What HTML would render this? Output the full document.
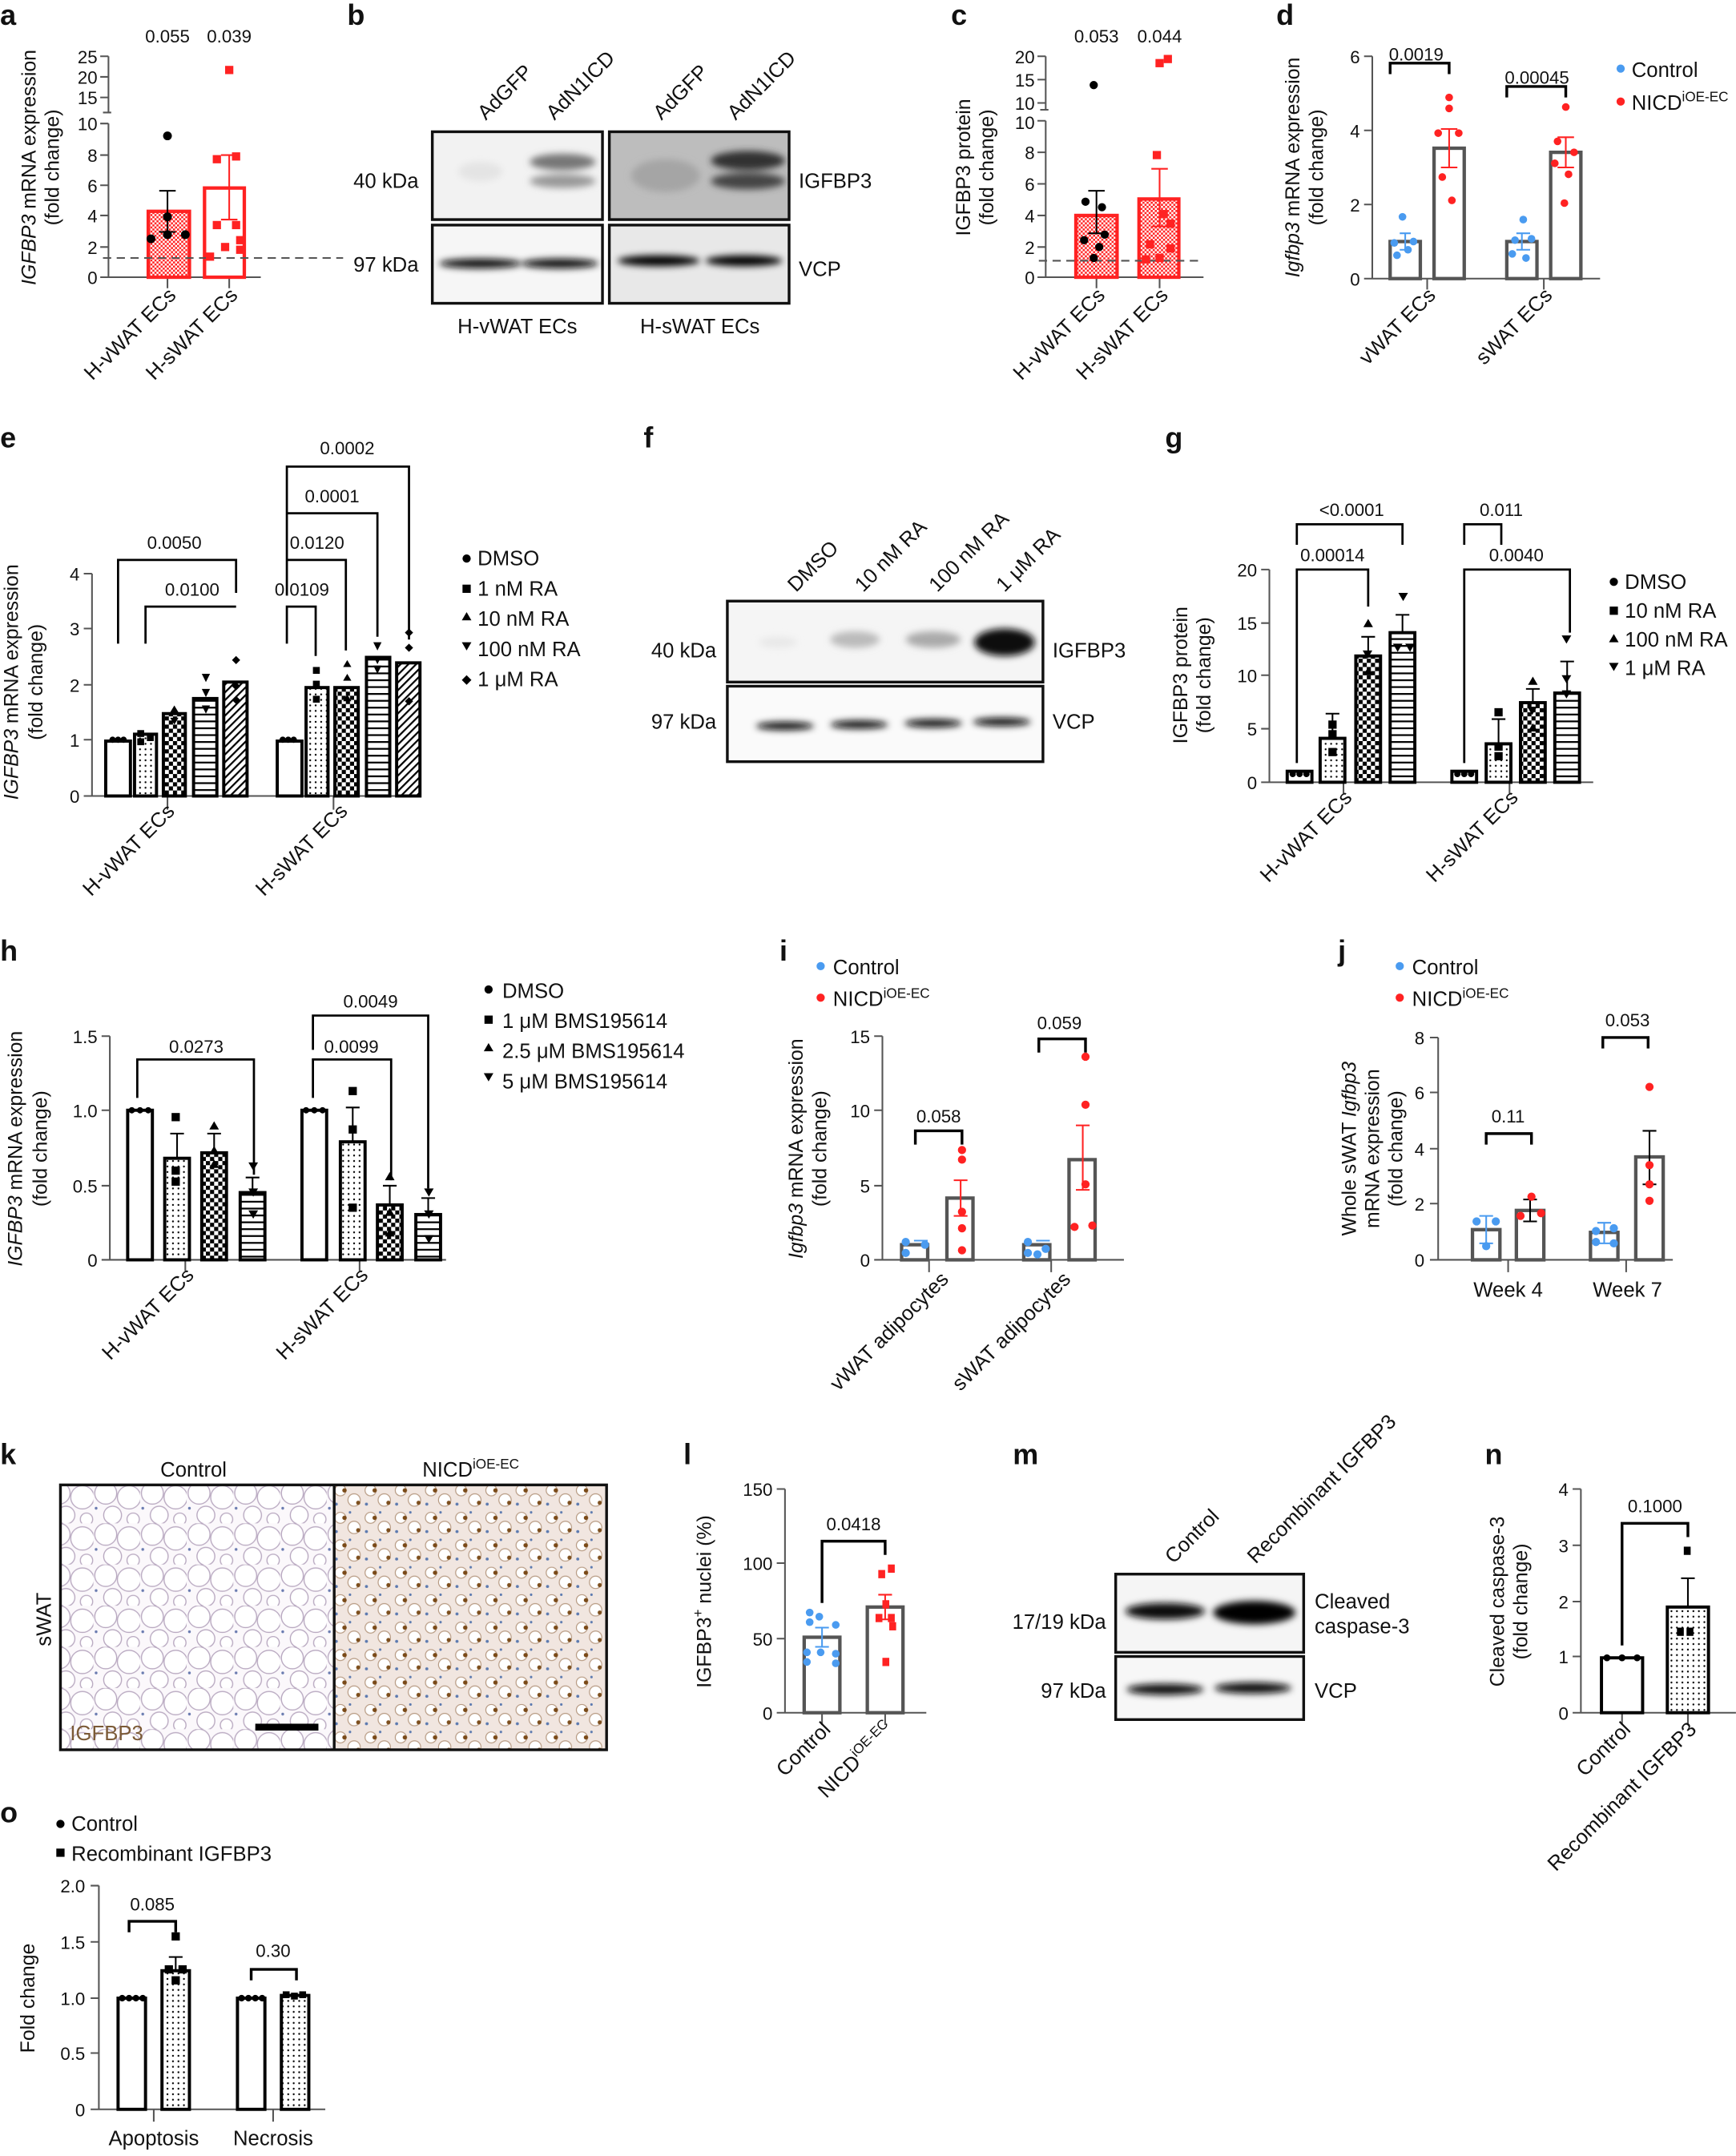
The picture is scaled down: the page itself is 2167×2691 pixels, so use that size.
<!DOCTYPE html>
<html><head><meta charset="utf-8">
<style>
html,body{margin:0;padding:0;background:#fff;}
svg{display:block;}
text{font-family:"Liberation Sans",sans-serif;fill:#111;}
.pl{font-weight:bold;font-size:21px;}
.tk{font-size:13px;}
.at{font-size:14.5px;}
.lb{font-size:15px;}
</style></head>
<body>
<svg width="2167" height="2691" viewBox="0 0 1265 1571" xmlns="http://www.w3.org/2000/svg">
<defs>
<pattern id="dots" width="4" height="4" patternUnits="userSpaceOnUse"><rect width="4" height="4" fill="#fff"/><circle cx="2" cy="2" r="0.7" fill="#000"/></pattern>
<pattern id="chk" width="6" height="6" patternUnits="userSpaceOnUse"><rect width="6" height="6" fill="#fff"/><rect width="3" height="3" fill="#000"/><rect x="3" y="3" width="3" height="3" fill="#000"/></pattern>
<pattern id="hor" width="6" height="5" patternUnits="userSpaceOnUse"><rect width="6" height="5" fill="#fff"/><rect y="0" width="6" height="1.3" fill="#000"/></pattern>
<pattern id="dia" width="4" height="4" patternUnits="userSpaceOnUse" patternTransform="rotate(45)"><rect width="4" height="4" fill="#fff"/><rect width="1.3" height="4" fill="#000"/></pattern>
<pattern id="rchk" width="3" height="3" patternUnits="userSpaceOnUse"><rect width="3" height="3" fill="#f22"/><rect width="1.5" height="1.5" fill="#fff"/><rect x="1.5" y="1.5" width="1.5" height="1.5" fill="#fff"/></pattern>
<pattern id="fat" width="34" height="30" patternUnits="userSpaceOnUse"><rect width="34" height="30" fill="#fbf8fb"/><circle cx="9" cy="8" r="8" fill="#fff" stroke="#b8a8c0" stroke-width="0.8"/><circle cx="26" cy="11" r="8.5" fill="#fff" stroke="#b8a8c0" stroke-width="0.8"/><circle cx="14" cy="24" r="6.5" fill="#fff" stroke="#b8a8c0" stroke-width="0.8"/><circle cx="29" cy="27" r="4.5" fill="#fff" stroke="#b8a8c0" stroke-width="0.8"/><circle cx="2" cy="19" r="1" fill="#6a7bb0"/></pattern>
<pattern id="tis" width="22" height="20" patternUnits="userSpaceOnUse"><rect width="22" height="20" fill="#f1e6e0"/><circle cx="6" cy="6" r="4" fill="#fff" stroke="#b79a82" stroke-width="0.7"/><circle cx="16" cy="13" r="4.5" fill="#fff" stroke="#b79a82" stroke-width="0.7"/><circle cx="9" cy="6" r="1.6" fill="#7a4a18"/><circle cx="19" cy="15" r="1.5" fill="#7d4f1e"/><circle cx="3" cy="16" r="1.1" fill="#5c7ab0"/><circle cx="13" cy="2" r="0.9" fill="#5c7ab0"/></pattern>
<filter id="bl"><feGaussianBlur stdDeviation="2.5"/></filter>
</defs>

<!-- ================= a ================= -->
<text class="pl" x="0" y="18">a</text>
<text class="tk" x="122" y="31" text-anchor="middle">0.055</text>
<text class="tk" x="167" y="31" text-anchor="middle">0.039</text>
<g stroke="#555" stroke-width="1.2" fill="none">
<path d="M79 41 V82 M79 90 V202 M73 41 H79 M73 56 H79 M73 71 H79 M75 82 H81 M73 90 H79 M73 113 H79 M73 135 H79 M73 157 H79 M73 180 H79"/>
<path d="M73 202 H190 M122 202 V210 M167 202 V210"/>
</g>
<g class="tk" text-anchor="end"><text x="71" y="46">25</text><text x="71" y="61">20</text><text x="71" y="76">15</text><text x="71" y="95">10</text><text x="71" y="118">8</text><text x="71" y="140">6</text><text x="71" y="162">4</text><text x="71" y="185">2</text><text x="71" y="207">0</text></g>
<text class="at" transform="translate(26,122) rotate(-90)" text-anchor="middle"><tspan font-style="italic">IGFBP3</tspan> mRNA expression</text>
<text class="at" transform="translate(43,122) rotate(-90)" text-anchor="middle">(fold change)</text>
<rect x="108" y="154" width="30" height="48" fill="url(#rchk)" stroke="#f22" stroke-width="2.5"/>
<rect x="149" y="137" width="29" height="65" fill="#fff" stroke="#f22" stroke-width="2.5"/>
<path d="M122 169 V139 M116 139 H128 M116 169 H128" stroke="#000" stroke-width="1.2"/>
<path d="M167 160 V113 M161 113 H173 M161 160 H173" stroke="#f22" stroke-width="1.2"/>
<line x1="75" y1="188" x2="250" y2="188" stroke="#555" stroke-width="1.2" stroke-dasharray="6,4"/>
<g fill="#000"><circle cx="122" cy="99" r="3.2"/><circle cx="122" cy="158" r="3.2"/><circle cx="122" cy="171" r="3.2"/><circle cx="110" cy="174" r="3.2"/><circle cx="135" cy="171" r="3.2"/></g>
<g fill="#f22"><rect x="164" y="48" width="6" height="6"/><rect x="155" y="113" width="6" height="6"/><rect x="169" y="111" width="6" height="6"/><rect x="155" y="161" width="6" height="6"/><rect x="169" y="161" width="6" height="6"/><rect x="161" y="177" width="6" height="6"/><rect x="172" y="172" width="6" height="6"/><rect x="172" y="179" width="6" height="6"/><rect x="150" y="184" width="6" height="6"/></g>
<text class="lb" transform="translate(129,216) rotate(-45)" text-anchor="end">H-vWAT ECs</text>
<text class="lb" transform="translate(174,216) rotate(-45)" text-anchor="end">H-sWAT ECs</text>

<!-- ================= b ================= -->
<text class="pl" x="253" y="18">b</text>
<text class="lb" transform="translate(354,88) rotate(-45)" >AdGFP</text>
<text class="lb" transform="translate(404,88) rotate(-45)" x="0">AdN1ICD</text>
<text class="lb" transform="translate(482,88) rotate(-45)">AdGFP</text>
<text class="lb" transform="translate(536,88) rotate(-45)">AdN1ICD</text>
<rect x="315" y="96" width="124" height="64" fill="#f2f2f2" stroke="#111" stroke-width="2"/>
<rect x="444" y="96" width="131" height="64" fill="#bdbdbd" stroke="#111" stroke-width="2"/>
<rect x="315" y="164" width="124" height="57" fill="#f6f6f6" stroke="#111" stroke-width="2"/>
<rect x="444" y="164" width="131" height="57" fill="#e8e8e8" stroke="#111" stroke-width="2"/>
<g filter="url(#bl)">
<ellipse cx="410" cy="118" rx="24" ry="6" fill="#777"/><ellipse cx="410" cy="132" rx="24" ry="5" fill="#999"/>
<ellipse cx="350" cy="125" rx="16" ry="7" fill="#e4e4e4"/>
<ellipse cx="485" cy="128" rx="25" ry="12" fill="#a5a5a5"/>
<ellipse cx="545" cy="117" rx="27" ry="7" fill="#333"/><ellipse cx="545" cy="132" rx="27" ry="6" fill="#444"/>
<ellipse cx="350" cy="192" rx="30" ry="3.5" fill="#111"/><ellipse cx="408" cy="192" rx="28" ry="3.5" fill="#111"/>
<ellipse cx="480" cy="190" rx="30" ry="4" fill="#000"/><ellipse cx="542" cy="190" rx="28" ry="4" fill="#000"/>
</g>
<text class="lb" x="305" y="137" text-anchor="end">40 kDa</text>
<text class="lb" x="305" y="198" text-anchor="end">97 kDa</text>
<text class="lb" x="582" y="137">IGFBP3</text>
<text class="lb" x="582" y="201">VCP</text>
<text class="lb" x="377" y="243" text-anchor="middle">H-vWAT ECs</text>
<text class="lb" x="510" y="243" text-anchor="middle">H-sWAT ECs</text>

<!-- ================= c ================= -->
<text class="pl" x="693" y="18">c</text>
<text class="tk" x="799" y="31" text-anchor="middle">0.053</text>
<text class="tk" x="845" y="31" text-anchor="middle">0.044</text>
<g stroke="#555" stroke-width="1.2" fill="none">
<path d="M762 41 V80 M762 88 V202 M756 41 H762 M756 58 H762 M756 75 H762 M758 80 H764 M756 88 H762 M756 111 H762 M756 134 H762 M756 157 H762 M756 180 H762 M756 202 H877 M799 202 V210 M845 202 V210"/>
</g>
<g class="tk" text-anchor="end"><text x="754" y="46">20</text><text x="754" y="63">15</text><text x="754" y="80">10</text><text x="754" y="94">10</text><text x="754" y="116">8</text><text x="754" y="139">6</text><text x="754" y="162">4</text><text x="754" y="185">2</text><text x="754" y="207">0</text></g>
<text class="at" transform="translate(707,122) rotate(-90)" text-anchor="middle">IGFBP3 protein</text>
<text class="at" transform="translate(724,122) rotate(-90)" text-anchor="middle">(fold change)</text>
<rect x="784" y="157" width="30" height="45" fill="url(#rchk)" stroke="#f22" stroke-width="2.5"/>
<rect x="830" y="145" width="29" height="57" fill="url(#rchk)" stroke="#f22" stroke-width="2.5"/>
<path d="M799 170 V139 M793 139 H805 M793 170 H805" stroke="#000" stroke-width="1.2"/>
<path d="M845 165 V123 M839 123 H851 M839 165 H851" stroke="#f22" stroke-width="1.2"/>
<line x1="757" y1="190" x2="877" y2="190" stroke="#555" stroke-width="1.2" stroke-dasharray="6,4"/>
<g fill="#000"><circle cx="797" cy="62" r="3"/><circle cx="791" cy="147" r="3"/><circle cx="803" cy="151" r="3"/><circle cx="790" cy="175" r="3"/><circle cx="801" cy="180" r="3"/><circle cx="797" cy="188" r="3"/><circle cx="805" cy="171" r="3"/></g>
<g fill="#f22"><rect x="842" y="43" width="6" height="6"/><rect x="848" y="40" width="6" height="6"/><rect x="840" y="110" width="6" height="6"/><rect x="845" y="153" width="6" height="6"/><rect x="850" y="160" width="6" height="6"/><rect x="835" y="175" width="6" height="6"/><rect x="850" y="178" width="6" height="6"/><rect x="842" y="185" width="6" height="6"/><rect x="832" y="186" width="6" height="6"/></g>
<text class="lb" transform="translate(806,216) rotate(-45)" text-anchor="end">H-vWAT ECs</text>
<text class="lb" transform="translate(852,216) rotate(-45)" text-anchor="end">H-sWAT ECs</text>

<!-- ================= d ================= -->
<text class="pl" x="930" y="18">d</text>
<g stroke="#555" stroke-width="1.2" fill="none"><path d="M1000 41 V203 M994 41 H1000 M994 95 H1000 M994 149 H1000 M994 203 H1166 M1040 203 V211 M1125 203 V211"/></g>
<g class="tk" text-anchor="end"><text x="991" y="46">6</text><text x="991" y="100">4</text><text x="991" y="154">2</text><text x="991" y="208">0</text></g>
<text class="at" transform="translate(947,122) rotate(-90)" text-anchor="middle"><tspan font-style="italic">Igfbp3</tspan> mRNA expression</text>
<text class="at" transform="translate(964,122) rotate(-90)" text-anchor="middle">(fold change)</text>
<g fill="#fff" stroke="#555" stroke-width="2.5"><rect x="1013" y="176" width="22" height="27"/><rect x="1045" y="108" width="22" height="95"/><rect x="1098" y="176" width="22" height="27"/><rect x="1130" y="111" width="22" height="92"/></g>
<path d="M1024 170 V182 M1020 170 H1028 M1020 182 H1028 M1109 170 V182 M1105 170 H1115 M1105 182 H1115" stroke="#4a9bf0" stroke-width="1.2"/>
<path d="M1056 94 V122 M1050 94 H1062 M1050 122 H1062 M1141 100 V122 M1135 100 H1147 M1135 122 H1147" stroke="#f22" stroke-width="1.2"/>
<path d="M1013 54 V46 H1056 V54 M1098 71 V63 H1141 V71" stroke="#000" stroke-width="2" fill="none"/>
<text class="tk" x="1032" y="44" text-anchor="middle">0.0019</text>
<text class="tk" x="1120" y="61" text-anchor="middle">0.00045</text>
<g fill="#4a9bf0"><circle cx="1022" cy="158" r="2.8"/><circle cx="1016" cy="177" r="2.8"/><circle cx="1030" cy="176" r="2.8"/><circle cx="1018" cy="186" r="2.8"/><circle cx="1026" cy="182" r="2.8"/><circle cx="1110" cy="160" r="2.8"/><circle cx="1104" cy="175" r="2.8"/><circle cx="1116" cy="174" r="2.8"/><circle cx="1102" cy="185" r="2.8"/><circle cx="1112" cy="188" r="2.8"/></g>
<g fill="#f22"><circle cx="1056" cy="71" r="2.8"/><circle cx="1056" cy="79" r="2.8"/><circle cx="1048" cy="97" r="2.8"/><circle cx="1063" cy="97" r="2.8"/><circle cx="1051" cy="129" r="2.8"/><circle cx="1058" cy="146" r="2.8"/><circle cx="1141" cy="78" r="2.8"/><circle cx="1135" cy="103" r="2.8"/><circle cx="1147" cy="111" r="2.8"/><circle cx="1133" cy="119" r="2.8"/><circle cx="1143" cy="127" r="2.8"/><circle cx="1140" cy="148" r="2.8"/></g>
<text class="lb" transform="translate(1047,216) rotate(-45)" text-anchor="end">vWAT ECs</text>
<text class="lb" transform="translate(1132,216) rotate(-45)" text-anchor="end">sWAT ECs</text>
<circle cx="1181" cy="50" r="3" fill="#4a9bf0"/><text class="lb" x="1189" y="56">Control</text>
<circle cx="1181" cy="74" r="3" fill="#f22"/><text class="lb" x="1189" y="80">NICD<tspan font-size="10" dy="-6">iOE-EC</tspan></text>

<!-- ================= e ================= -->
<text class="pl" x="0" y="326">e</text>
<g stroke="#555" stroke-width="1.2" fill="none"><path d="M67 418 V580 M61 418 H67 M61 458 H67 M61 499 H67 M61 539 H67 M61 580 H307 M122 580 V590 M243 580 V590"/></g>
<g class="tk" text-anchor="end"><text x="58" y="423">4</text><text x="58" y="463">3</text><text x="58" y="504">2</text><text x="58" y="544">1</text><text x="58" y="585">0</text></g>
<text class="at" transform="translate(13,497) rotate(-90)" text-anchor="middle"><tspan font-style="italic">IGFBP3</tspan> mRNA expression</text>
<text class="at" transform="translate(31,497) rotate(-90)" text-anchor="middle">(fold change)</text>
<g stroke="#000" stroke-width="2.3">
<rect x="77" y="540" width="18" height="40" fill="#fff"/><rect x="98" y="535" width="16" height="45" fill="url(#dots)"/><rect x="119" y="520" width="16" height="60" fill="url(#chk)"/><rect x="141" y="509" width="17" height="71" fill="url(#hor)"/><rect x="163" y="497" width="17" height="83" fill="url(#dia)"/>
<rect x="202" y="540" width="18" height="40" fill="#fff"/><rect x="223" y="501" width="16" height="79" fill="url(#dots)"/><rect x="244" y="501" width="17" height="79" fill="url(#chk)"/><rect x="267" y="479" width="17" height="101" fill="url(#hor)"/><rect x="289" y="483" width="17" height="97" fill="url(#dia)"/>
</g>
<g stroke="#000" stroke-width="1.6" fill="none">
<path d="M86 469 V408 H172 V432 M106 469 V442 H172 M209 469 V442 H230 V478 M209 434 V408 H252 V474 M209 425 V374 H275 V464 M209 400 V340 H298 V466"/>
</g>
<g class="tk" text-anchor="middle"><text x="127" y="400">0.0050</text><text x="140" y="434">0.0100</text><text x="220" y="434">0.0109</text><text x="231" y="400">0.0120</text><text x="242" y="366">0.0001</text><text x="253" y="331">0.0002</text></g>
<g fill="#000">
<circle cx="82" cy="539" r="2.3"/><circle cx="86" cy="539" r="2.3"/><circle cx="90" cy="539" r="2.3"/>
<rect x="100" y="532" width="5" height="5"/><rect x="100" y="538" width="5" height="5"/><rect x="107" y="535" width="5" height="5"/>
<path d="M127 514 l3 5 h-6z M124 523 l3 5 3-5z"/>
<path d="M147 491 h6 l-3 6z M147 502 h6 l-3 6z M147 514 h6 l-3 6z"/>
<path d="M172 478 l3 3 -3 3 -3 -3z M172 497 l3 3 -3 3 -3 -3z M172 507 l3 3 -3 3 -3 -3z"/>
<circle cx="206" cy="539" r="2.3"/><circle cx="210" cy="539" r="2.3"/><circle cx="214" cy="539" r="2.3"/>
<rect x="228" y="486" width="5" height="5"/><rect x="228" y="496" width="5" height="5"/><rect x="228" y="507" width="5" height="5"/>
<path d="M253 481 l3 5 h-6z M253 491 l3 5 h-6z M253 506 l3 5 h-6z"/>
<path d="M272 468 h6 l-3 6z M272 478 h6 l-3 6z M272 485 h6 l-3 6z"/>
<path d="M298 458 l3 3 -3 3 -3 -3z M298 469 l3 3 -3 3 -3 -3z M298 508 l3 3 -3 3 -3 -3z"/>
</g>
<text class="lb" transform="translate(128,592) rotate(-45)" text-anchor="end">H-vWAT ECs</text>
<text class="lb" transform="translate(254,592) rotate(-45)" text-anchor="end">H-sWAT ECs</text>
<g class="lb"><circle cx="340" cy="407" r="3" fill="#000"/><text x="348" y="412">DMSO</text>
<rect x="337" y="426" width="6" height="6" fill="#000"/><text x="348" y="434">1 nM RA</text>
<path d="M340 446 l3.5 6 h-7z" fill="#000"/><text x="348" y="456">10 nM RA</text>
<path d="M336.5 468 h7 l-3.5 6z" fill="#000"/><text x="348" y="478">100 nM RA</text>
<path d="M340 492 l3.5 3.5 -3.5 3.5 -3.5 -3.5z" fill="#000"/><text x="348" y="500">1 μM RA</text></g>

<!-- ================= f ================= -->
<text class="pl" x="469" y="326">f</text>
<text class="lb" transform="translate(580,432) rotate(-45)">DMSO</text>
<text class="lb" transform="translate(629,432) rotate(-45)">10 nM RA</text>
<text class="lb" transform="translate(683,432) rotate(-45)">100 nM RA</text>
<text class="lb" transform="translate(732,432) rotate(-45)">1 μM RA</text>
<rect x="530" y="438" width="230" height="59" fill="#f5f5f5" stroke="#111" stroke-width="2"/>
<rect x="530" y="500" width="230" height="55" fill="#fafafa" stroke="#111" stroke-width="2"/>
<g filter="url(#bl)">
<ellipse cx="567" cy="468" rx="14" ry="4" fill="#e8e8e8"/>
<ellipse cx="623" cy="466" rx="18" ry="6" fill="#bbb"/><ellipse cx="680" cy="466" rx="20" ry="6" fill="#aaa"/>
<ellipse cx="732" cy="468" rx="22" ry="10" fill="#111"/>
<ellipse cx="572" cy="529" rx="21" ry="3" fill="#111"/><ellipse cx="626" cy="528" rx="21" ry="3" fill="#111"/><ellipse cx="680" cy="527" rx="21" ry="3" fill="#111"/><ellipse cx="730" cy="526" rx="21" ry="3" fill="#111"/>
</g>
<text class="lb" x="522" y="479" text-anchor="end">40 kDa</text>
<text class="lb" x="522" y="531" text-anchor="end">97 kDa</text>
<text class="lb" x="767" y="479">IGFBP3</text>
<text class="lb" x="767" y="531">VCP</text>

<!-- ================= g ================= -->
<text class="pl" x="849" y="326">g</text>
<g stroke="#555" stroke-width="1.2" fill="none"><path d="M925 415 V570 M919 415 H925 M919 454 H925 M919 492 H925 M919 531 H925 M919 570 H1161 M979 570 V578 M1100 570 V578"/></g>
<g class="tk" text-anchor="end"><text x="916" y="420">20</text><text x="916" y="459">15</text><text x="916" y="497">10</text><text x="916" y="536">5</text><text x="916" y="575">0</text></g>
<text class="at" transform="translate(865,492) rotate(-90)" text-anchor="middle">IGFBP3 protein</text>
<text class="at" transform="translate(882,492) rotate(-90)" text-anchor="middle">(fold change)</text>
<g stroke="#000" stroke-width="2.3">
<rect x="938" y="562" width="18" height="8" fill="#fff"/><rect x="962" y="538" width="18" height="32" fill="url(#dots)"/><rect x="988" y="478" width="18" height="92" fill="url(#chk)"/><rect x="1013" y="461" width="18" height="109" fill="url(#hor)"/>
<rect x="1058" y="562" width="18" height="8" fill="#fff"/><rect x="1083" y="542" width="18" height="28" fill="url(#dots)"/><rect x="1108" y="512" width="18" height="58" fill="url(#chk)"/><rect x="1133" y="505" width="18" height="65" fill="url(#hor)"/>
</g>
<path d="M997 478 V464 M992 464 H1002 M1022 461 V448 M1017 448 H1027 M971 538 V520 M966 520 H976 M1092 542 V524 M1087 524 H1097 M1117 512 V502 M1112 502 H1122 M1142 505 V482 M1137 482 H1147" stroke="#000" stroke-width="1.2"/>
<g stroke="#000" stroke-width="1.6" fill="none"><path d="M945 556 V415 H997 V442 M945 397 V382 H1022 V397 M1067 556 V415 H1144 V461 M1067 397 V382 H1094 V397"/></g>
<g class="tk" text-anchor="middle"><text x="971" y="409">0.00014</text><text x="985" y="376">&lt;0.0001</text><text x="1105" y="409">0.0040</text><text x="1094" y="376">0.011</text></g>
<g fill="#000">
<circle cx="942" cy="564" r="2.3"/><circle cx="947" cy="564" r="2.3"/><circle cx="952" cy="564" r="2.3"/>
<rect x="968" y="525" width="6" height="6"/><rect x="968" y="532" width="6" height="6"/><rect x="968" y="545" width="6" height="6"/>
<path d="M997 451 l3.5 6 h-7z M993 474 h7 l-3.5 6z M997 486 l3.5 6 h-7z"/>
<path d="M1019 432 h7 l-3.5 6z M1015 469 h7 l-3.5 6z M1024 469 h7 l-3.5 6z"/>
<circle cx="1062" cy="564" r="2.3"/><circle cx="1067" cy="564" r="2.3"/><circle cx="1072" cy="564" r="2.3"/>
<rect x="1089" y="516" width="6" height="6"/><rect x="1089" y="541" width="6" height="6"/><rect x="1089" y="548" width="6" height="6"/>
<path d="M1117 493 l3.5 6 h-7z M1113 515 h7 l-3.5 6z M1117 527 l3.5 6 h-7z"/>
<path d="M1138 463 h7 l-3.5 6z M1138 492 h7 l-3.5 6z M1138 503 h7 l-3.5 6z"/>
</g>
<text class="lb" transform="translate(986,582) rotate(-45)" text-anchor="end">H-vWAT ECs</text>
<text class="lb" transform="translate(1107,582) rotate(-45)" text-anchor="end">H-sWAT ECs</text>
<g class="lb"><circle cx="1176" cy="424" r="3" fill="#000"/><text x="1184" y="429">DMSO</text>
<rect x="1173" y="442" width="6" height="6" fill="#000"/><text x="1184" y="450">10 nM RA</text>
<path d="M1176 462 l3.5 6 h-7z" fill="#000"/><text x="1184" y="471">100 nM RA</text>
<path d="M1172.5 483 h7 l-3.5 6z" fill="#000"/><text x="1184" y="492">1 μM RA</text></g>

<!-- ================= h ================= -->
<text class="pl" x="0" y="700">h</text>
<g stroke="#555" stroke-width="1.2" fill="none"><path d="M80 755 V918 M74 755 H80 M74 809 H80 M74 864 H80 M74 918 H325 M135 918 V926 M262 918 V926"/></g>
<g class="tk" text-anchor="end"><text x="71" y="760">1.5</text><text x="71" y="814">1.0</text><text x="71" y="869">0.5</text><text x="71" y="923">0</text></g>
<text class="at" transform="translate(16,837) rotate(-90)" text-anchor="middle"><tspan font-style="italic">IGFBP3</tspan> mRNA expression</text>
<text class="at" transform="translate(34,837) rotate(-90)" text-anchor="middle">(fold change)</text>
<g stroke="#000" stroke-width="2.3">
<rect x="93" y="809" width="18" height="109" fill="#fff"/><rect x="120" y="844" width="18" height="74" fill="url(#dots)"/><rect x="147" y="840" width="18" height="78" fill="url(#chk)"/><rect x="175" y="869" width="18" height="49" fill="url(#hor)"/>
<rect x="220" y="809" width="18" height="109" fill="#fff"/><rect x="248" y="832" width="18" height="86" fill="url(#dots)"/><rect x="275" y="878" width="18" height="40" fill="url(#chk)"/><rect x="303" y="885" width="18" height="33" fill="url(#hor)"/>
</g>
<path d="M129 844 V826 M124 826 H134 M156 840 V826 M151 826 H161 M184 869 V858 M179 858 H189 M257 832 V807 M252 807 H262 M284 878 V864 M279 864 H289 M312 885 V873 M307 873 H317" stroke="#000" stroke-width="1.2"/>
<g stroke="#000" stroke-width="1.6" fill="none"><path d="M100 800 V772 H185 V856 M228 800 V772 H285 V860 M228 765 V740 H312 V866"/></g>
<g class="tk" text-anchor="middle"><text x="143" y="767">0.0273</text><text x="256" y="767">0.0099</text><text x="270" y="734">0.0049</text></g>
<g fill="#000">
<circle cx="96" cy="809" r="2.3"/><circle cx="102" cy="809" r="2.3"/><circle cx="108" cy="809" r="2.3"/>
<rect x="125" y="811" width="6" height="6"/><rect x="125" y="850" width="6" height="6"/><rect x="125" y="858" width="6" height="6"/>
<path d="M156 817 l3.5 6 h-7z M156 835 l3.5 6 h-7z M156 845 l3.5 6 h-7z"/>
<path d="M181 847 h7 l-3.5 6z M181 866 h7 l-3.5 6z M181 882 h7 l-3.5 6z"/>
<circle cx="223" cy="809" r="2.3"/><circle cx="229" cy="809" r="2.3"/><circle cx="235" cy="809" r="2.3"/>
<rect x="254" y="792" width="6" height="6"/><rect x="254" y="820" width="6" height="6"/><rect x="254" y="877" width="6" height="6"/>
<path d="M284 854 l3.5 6 h-7z M284 880 l3.5 6 h-7z M284 895 l3.5 6 h-7z"/>
<path d="M309 866 h7 l-3.5 6z M309 882 h7 l-3.5 6z M309 900 h7 l-3.5 6z"/>
</g>
<text class="lb" transform="translate(142,930) rotate(-45)" text-anchor="end">H-vWAT ECs</text>
<text class="lb" transform="translate(269,930) rotate(-45)" text-anchor="end">H-sWAT ECs</text>
<g class="lb"><circle cx="356" cy="721" r="3" fill="#000"/><text x="366" y="727">DMSO</text>
<rect x="353" y="740" width="6" height="6" fill="#000"/><text x="366" y="749">1 μM BMS195614</text>
<path d="M356 760 l3.5 6 h-7z" fill="#000"/><text x="366" y="771">2.5 μM BMS195614</text>
<path d="M352.5 782 h7 l-3.5 6z" fill="#000"/><text x="366" y="793">5 μM BMS195614</text></g>

<!-- ================= i ================= -->
<text class="pl" x="568" y="700">i</text>
<circle cx="598" cy="704" r="3" fill="#4a9bf0"/><text class="lb" x="607" y="710">Control</text>
<circle cx="598" cy="727" r="3" fill="#f22"/><text class="lb" x="607" y="733">NICD<tspan font-size="10" dy="-6">iOE-EC</tspan></text>
<g stroke="#555" stroke-width="1.2" fill="none"><path d="M643 755 V918 M637 755 H643 M637 809 H643 M637 864 H643 M637 918 H819 M677 918 V927 M766 918 V927"/></g>
<g class="tk" text-anchor="end"><text x="634" y="760">15</text><text x="634" y="814">10</text><text x="634" y="869">5</text><text x="634" y="923">0</text></g>
<text class="at" transform="translate(585,837) rotate(-90)" text-anchor="middle"><tspan font-style="italic">Igfbp3</tspan> mRNA expression</text>
<text class="at" transform="translate(602,837) rotate(-90)" text-anchor="middle">(fold change)</text>
<g fill="#fff" stroke="#555" stroke-width="2.5"><rect x="657" y="907" width="19" height="11"/><rect x="690" y="873" width="19" height="45"/><rect x="746" y="907" width="19" height="11"/><rect x="779" y="845" width="19" height="73"/></g>
<path d="M700 860 V886 M695 860 H705 M695 886 H705 M789 820 V867 M784 820 H794 M784 867 H794" stroke="#f22" stroke-width="1.2"/>
<path d="M666 904 H676 M755 904 H765" stroke="#4a9bf0" stroke-width="1.2"/>
<g stroke="#000" stroke-width="2" fill="none"><path d="M667 834 V824 H701 V834 M757 767 V757 H791 V767"/></g>
<text class="tk" x="684" y="818" text-anchor="middle">0.058</text><text class="tk" x="772" y="750" text-anchor="middle">0.059</text>
<g fill="#4a9bf0"><circle cx="660" cy="905" r="3"/><circle cx="660" cy="913" r="3"/><circle cx="674" cy="907" r="3"/><circle cx="749" cy="905" r="3"/><circle cx="749" cy="913" r="3"/><circle cx="756" cy="914" r="3"/><circle cx="762" cy="910" r="3"/></g>
<g fill="#f22"><circle cx="701" cy="838" r="3"/><circle cx="701" cy="845" r="3"/><circle cx="701" cy="883" r="3"/><circle cx="701" cy="895" r="3"/><circle cx="701" cy="911" r="3"/><circle cx="791" cy="770" r="3"/><circle cx="791" cy="805" r="3"/><circle cx="791" cy="863" r="3"/><circle cx="783" cy="894" r="3"/><circle cx="796" cy="893" r="3"/></g>
<text class="lb" transform="translate(692,933) rotate(-45)" text-anchor="end">vWAT adipocytes</text>
<text class="lb" transform="translate(781,933) rotate(-45)" text-anchor="end">sWAT adipocytes</text>

<!-- ================= j ================= -->
<text class="pl" x="975" y="700">j</text>
<circle cx="1020" cy="704" r="3" fill="#4a9bf0"/><text class="lb" x="1029" y="710">Control</text>
<circle cx="1020" cy="727" r="3" fill="#f22"/><text class="lb" x="1029" y="733">NICD<tspan font-size="10" dy="-6">iOE-EC</tspan></text>
<g stroke="#555" stroke-width="1.2" fill="none"><path d="M1048 756 V918 M1042 756 H1048 M1042 796 H1048 M1042 837 H1048 M1042 877 H1048 M1042 918 H1219 M1099 918 V927 M1185 918 V927"/></g>
<g class="tk" text-anchor="end"><text x="1038" y="761">8</text><text x="1038" y="801">6</text><text x="1038" y="842">4</text><text x="1038" y="882">2</text><text x="1038" y="923">0</text></g>
<text class="at" transform="translate(988,837) rotate(-90)" text-anchor="middle">Whole sWAT <tspan font-style="italic">Igfbp3</tspan></text>
<text class="at" transform="translate(1005,837) rotate(-90)" text-anchor="middle">mRNA expression</text>
<text class="at" transform="translate(1022,837) rotate(-90)" text-anchor="middle">(fold change)</text>
<g fill="#fff" stroke="#555" stroke-width="2.5"><rect x="1073" y="896" width="20" height="22"/><rect x="1105" y="882" width="20" height="36"/><rect x="1159" y="898" width="20" height="20"/><rect x="1192" y="843" width="20" height="75"/></g>
<path d="M1083 886 V906 M1078 886 H1088 M1078 906 H1088 M1169 891 V906 M1164 891 H1174 M1164 906 H1174" stroke="#4a9bf0" stroke-width="1.2"/>
<path d="M1115 874 V890 M1110 874 H1120 M1110 890 H1120 M1202 824 V863 M1197 824 H1207 M1197 863 H1207" stroke="#000" stroke-width="1.2"/>
<g stroke="#000" stroke-width="2" fill="none"><path d="M1083 834 V826 H1116 V834 M1168 764 V756 H1201 V764"/></g>
<text class="tk" x="1099" y="818" text-anchor="middle">0.11</text><text class="tk" x="1186" y="748" text-anchor="middle">0.053</text>
<g fill="#4a9bf0"><circle cx="1076" cy="890" r="3"/><circle cx="1090" cy="890" r="3"/><circle cx="1083" cy="908" r="3"/><circle cx="1163" cy="897" r="3"/><circle cx="1176" cy="895" r="3"/><circle cx="1163" cy="905" r="3"/><circle cx="1176" cy="906" r="3"/></g>
<g fill="#f22"><circle cx="1116" cy="872" r="3"/><circle cx="1108" cy="886" r="3"/><circle cx="1123" cy="884" r="3"/><circle cx="1202" cy="792" r="3"/><circle cx="1202" cy="849" r="3"/><circle cx="1202" cy="863" r="3"/><circle cx="1202" cy="875" r="3"/></g>
<text class="lb" x="1099" y="945" text-anchor="middle">Week 4</text><text class="lb" x="1186" y="945" text-anchor="middle">Week 7</text>

<!-- ================= k ================= -->
<text class="pl" x="0" y="1067">k</text>
<text class="lb" x="141" y="1076" text-anchor="middle">Control</text>
<text class="lb" x="343" y="1076" text-anchor="middle">NICD<tspan font-size="10" dy="-6">iOE-EC</tspan></text>
<rect x="44" y="1082" width="199" height="193" fill="url(#fat)"/>
<rect x="244" y="1082" width="198" height="193" fill="url(#tis)"/>
<rect x="44" y="1082" width="398" height="193" fill="none" stroke="#111" stroke-width="2"/>
<line x1="243.5" y1="1082" x2="243.5" y2="1275" stroke="#111" stroke-width="2"/>
<rect x="186" y="1256" width="46" height="5" fill="#000"/>
<text x="51" y="1268" font-size="15" style="fill:#7b5a36">IGFBP3</text>
<text class="lb" transform="translate(37,1180) rotate(-90)" text-anchor="middle">sWAT</text>

<!-- ================= l ================= -->
<text class="pl" x="498" y="1067">l</text>
<g stroke="#555" stroke-width="1.2" fill="none"><path d="M572 1085 V1248 M566 1085 H572 M566 1139 H572 M566 1194 H572 M566 1248 H675 M599 1248 V1257 M645 1248 V1257"/></g>
<g class="tk" text-anchor="end"><text x="563" y="1090">150</text><text x="563" y="1144">100</text><text x="563" y="1199">50</text><text x="563" y="1253">0</text></g>
<text class="at" transform="translate(518,1167) rotate(-90)" text-anchor="middle">IGFBP3<tspan font-size="10" dy="-6">+</tspan><tspan dy="6"> nuclei (%)</tspan></text>
<g fill="#fff" stroke="#555" stroke-width="2.5"><rect x="586" y="1193" width="26" height="55"/><rect x="632" y="1171" width="26" height="77"/></g>
<path d="M599 1186 V1200 M594 1186 H604 M594 1200 H604" stroke="#4a9bf0" stroke-width="1.2"/>
<path d="M645 1162 V1180 M640 1162 H650 M640 1180 H650" stroke="#f22" stroke-width="1.2"/>
<path d="M599 1168 V1123 H645 V1133" stroke="#000" stroke-width="2" fill="none"/>
<text class="tk" x="622" y="1115" text-anchor="middle">0.0418</text>
<g fill="#4a9bf0"><circle cx="590" cy="1175" r="2.8"/><circle cx="590" cy="1182" r="2.8"/><circle cx="597" cy="1178" r="2.8"/><circle cx="609" cy="1184" r="2.8"/><circle cx="588" cy="1204" r="2.8"/><circle cx="598" cy="1204" r="2.8"/><circle cx="609" cy="1205" r="2.8"/><circle cx="588" cy="1211" r="2.8"/><circle cx="609" cy="1212" r="2.8"/></g>
<g fill="#f22"><rect x="640" y="1144" width="5" height="6"/><rect x="647" y="1140" width="5" height="6"/><rect x="643" y="1166" width="5" height="6"/><rect x="647" y="1176" width="5" height="6"/><rect x="638" y="1176" width="5" height="6"/><rect x="648" y="1182" width="5" height="6"/><rect x="643" y="1208" width="5" height="6"/></g>
<text class="lb" transform="translate(606,1261) rotate(-45)" text-anchor="end">Control</text>
<text class="lb" transform="translate(652,1261) rotate(-45)" text-anchor="end">NICD<tspan font-size="10" dy="-6">iOE-EC</tspan></text>

<!-- ================= m ================= -->
<text class="pl" x="738" y="1067">m</text>
<text class="lb" transform="translate(855,1140) rotate(-45)">Control</text>
<text class="lb" transform="translate(915,1140) rotate(-45)">Recombinant IGFBP3</text>
<rect x="813" y="1147" width="137" height="57" fill="#f5f5f5" stroke="#111" stroke-width="2"/>
<rect x="813" y="1207" width="137" height="46" fill="#f7f7f7" stroke="#111" stroke-width="2"/>
<g filter="url(#bl)">
<ellipse cx="849" cy="1174" rx="29" ry="6" fill="#111"/><ellipse cx="914" cy="1175" rx="30" ry="8.5" fill="#000"/>
<ellipse cx="849" cy="1231" rx="28" ry="4" fill="#111"/><ellipse cx="913" cy="1230" rx="28" ry="4" fill="#111"/>
</g>
<text class="lb" x="806" y="1187" text-anchor="end">17/19 kDa</text>
<text class="lb" x="806" y="1237" text-anchor="end">97 kDa</text>
<text class="lb" x="958" y="1172">Cleaved</text>
<text class="lb" x="958" y="1190">caspase-3</text>
<text class="lb" x="958" y="1237">VCP</text>

<!-- ================= n ================= -->
<text class="pl" x="1082" y="1067">n</text>
<g stroke="#555" stroke-width="1.2" fill="none"><path d="M1152 1085 V1248 M1146 1085 H1152 M1146 1126 H1152 M1146 1167 H1152 M1146 1207 H1152 M1146 1248 H1265 M1182 1248 V1257 M1230 1248 V1257"/></g>
<g class="tk" text-anchor="end"><text x="1143" y="1090">4</text><text x="1143" y="1131">3</text><text x="1143" y="1172">2</text><text x="1143" y="1212">1</text><text x="1143" y="1253">0</text></g>
<text class="at" transform="translate(1096,1167) rotate(-90)" text-anchor="middle">Cleaved caspase-3</text>
<text class="at" transform="translate(1113,1167) rotate(-90)" text-anchor="middle">(fold change)</text>
<g stroke="#000" stroke-width="2.3"><rect x="1167" y="1208" width="30" height="40" fill="#fff"/><rect x="1215" y="1171" width="30" height="77" fill="url(#dots)"/></g>
<path d="M1230 1171 V1150 M1225 1150 H1235" stroke="#000" stroke-width="1.2"/>
<path d="M1182 1199 V1110 H1230 V1120" stroke="#000" stroke-width="2" fill="none"/>
<text class="tk" x="1206" y="1102" text-anchor="middle">0.1000</text>
<g fill="#000"><circle cx="1171" cy="1208" r="2.5"/><circle cx="1182" cy="1208" r="2.5"/><circle cx="1193" cy="1208" r="2.5"/><rect x="1227" y="1127" width="5" height="6"/><rect x="1222" y="1186" width="5" height="6"/><rect x="1229" y="1186" width="5" height="6"/></g>
<text class="lb" transform="translate(1189,1261) rotate(-45)" text-anchor="end">Control</text>
<text class="lb" transform="translate(1237,1261) rotate(-45)" text-anchor="end">Recombinant IGFBP3</text>

<!-- ================= o ================= -->
<text class="pl" x="0" y="1328">o</text>
<circle cx="44" cy="1329" r="3" fill="#000"/><text class="lb" x="52" y="1334">Control</text>
<rect x="41" y="1347" width="6" height="6" fill="#000"/><text class="lb" x="52" y="1356">Recombinant IGFBP3</text>
<g stroke="#555" stroke-width="1.2" fill="none"><path d="M72 1374 V1537 M66 1374 H72 M66 1415 H72 M66 1456 H72 M66 1496 H72 M66 1537 H237 M112 1537 V1546 M199 1537 V1546"/></g>
<g class="tk" text-anchor="end"><text x="62" y="1379">2.0</text><text x="62" y="1420">1.5</text><text x="62" y="1461">1.0</text><text x="62" y="1501">0.5</text><text x="62" y="1542">0</text></g>
<text class="at" transform="translate(25,1456) rotate(-90)" text-anchor="middle">Fold change</text>
<g stroke="#000" stroke-width="2.3"><rect x="86" y="1456" width="20" height="81" fill="#fff"/><rect x="118" y="1436" width="20" height="101" fill="url(#dots)"/><rect x="173" y="1456" width="20" height="81" fill="#fff"/><rect x="205" y="1454" width="20" height="83" fill="url(#dots)"/></g>
<path d="M128 1436 V1426 M123 1426 H133" stroke="#000" stroke-width="1.2"/>
<path d="M94 1408 V1400 H128 V1408 M183 1443 V1435 H216 V1443" stroke="#000" stroke-width="2" fill="none"/>
<text class="tk" x="111" y="1392" text-anchor="middle">0.085</text><text class="tk" x="199" y="1426" text-anchor="middle">0.30</text>
<g fill="#000"><circle cx="89" cy="1456" r="2.4"/><circle cx="94" cy="1456" r="2.4"/><circle cx="99" cy="1456" r="2.4"/><circle cx="104" cy="1456" r="2.4"/>
<rect x="125" y="1408" width="6" height="6"/><rect x="120" y="1432" width="6" height="6"/><rect x="130" y="1432" width="6" height="6"/><rect x="125" y="1440" width="6" height="6"/>
<circle cx="176" cy="1456" r="2.4"/><circle cx="181" cy="1456" r="2.4"/><circle cx="186" cy="1456" r="2.4"/><circle cx="191" cy="1456" r="2.4"/>
<rect x="206" y="1451" width="5" height="5"/><rect x="212" y="1452" width="5" height="5"/><rect x="218" y="1451" width="5" height="5"/></g>
<text class="lb" x="112" y="1563" text-anchor="middle">Apoptosis</text><text class="lb" x="199" y="1563" text-anchor="middle">Necrosis</text>
</svg>
</body></html>
